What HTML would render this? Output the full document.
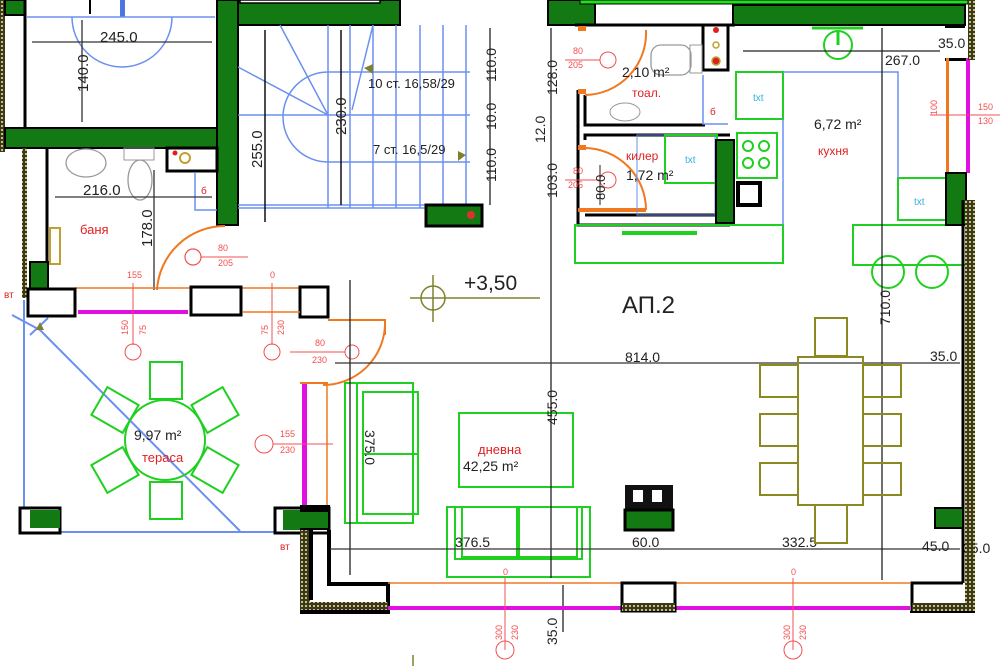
<!DOCTYPE html>
<html><head><meta charset="utf-8"><style>
html,body{margin:0;padding:0;background:#fff;}
svg{display:block;font-family:"Liberation Sans","DejaVu Sans",sans-serif;}
</style></head><body>
<svg width="1000" height="666" viewBox="0 0 1000 666" xmlns="http://www.w3.org/2000/svg">
<defs>
<pattern id="hat" width="4" height="4" patternUnits="userSpaceOnUse"><rect width="4" height="4" fill="#3a3a1a"/><rect x="1" y="1" width="2" height="2" fill="#c8c080"/></pattern>
</defs>
<rect width="1000" height="666" fill="#fff"/>

<!-- top-left area -->
<rect x="0" y="0" width="5" height="152" fill="url(#hat)"/>
<rect x="5" y="0" width="20" height="15" fill="#137a13" stroke="#000" stroke-width="2"/>
<line x1="25" y1="0" x2="25" y2="128" stroke="#000" stroke-width="3"/>
<rect x="120" y="0" width="5" height="17" fill="#4a78e0"/>
<line x1="90" y1="0" x2="90" y2="14" stroke="#000" stroke-width="2"/>
<line x1="27" y1="17" x2="215" y2="17" stroke="#6a90f0" stroke-width="1.5"/>
<path d="M72 0 A50 50 0 0 0 172 0" fill="none" stroke="#6a90f0" stroke-width="1.5" transform="translate(0,17)"/>
<line x1="32" y1="42" x2="212" y2="42" stroke="#333" stroke-width="1.3"/>
<text x="100" y="42" font-size="15" fill="#222">245.0</text>
<line x1="82" y1="20" x2="82" y2="122" stroke="#333" stroke-width="1.3"/>
<text x="88" y="92" font-size="15" fill="#222" transform="rotate(-90 88 92)">140.0</text>
<!-- horizontal green walls -->
<rect x="5" y="128" width="233" height="20" fill="#137a13" stroke="#000" stroke-width="2"/>
<rect x="217" y="0" width="21" height="225" fill="#137a13" stroke="#000" stroke-width="2"/>
<rect x="238" y="0" width="162" height="25" fill="#137a13" stroke="#000" stroke-width="2"/>
<rect x="240" y="0" width="140" height="3" fill="#fff" stroke="#000" stroke-width="1.5"/>
<!-- stairs -->
<g stroke="#6a90f0" stroke-width="1.5" fill="none">
<line x1="238" y1="115" x2="470" y2="115"/>
<line x1="238" y1="208" x2="470" y2="208"/>
<line x1="328" y1="72" x2="470" y2="72"/>
<line x1="328" y1="162" x2="470" y2="162"/>
<path d="M328 72 A45 45 0 0 0 328 162"/>
<line x1="280" y1="25" x2="328" y2="115"/>
<line x1="238" y1="67" x2="328" y2="115"/>
<line x1="373" y1="25" x2="352" y2="110"/>
<line x1="328" y1="25" x2="328" y2="208"/>
<line x1="350" y1="25" x2="350" y2="208"/>
<line x1="373" y1="25" x2="373" y2="208"/>
<line x1="396" y1="25" x2="396" y2="208"/>
<line x1="420" y1="25" x2="420" y2="208"/>
<line x1="443" y1="25" x2="443" y2="208"/>
<line x1="466" y1="25" x2="466" y2="208"/>
<line x1="238" y1="205" x2="470" y2="205"/>
</g>
<line x1="265" y1="30" x2="265" y2="222" stroke="#111" stroke-width="1.5"/>
<text x="262" y="168" font-size="15" fill="#222" transform="rotate(-90 262 168)">255.0</text>
<line x1="341" y1="30" x2="341" y2="205" stroke="#111" stroke-width="1.5"/>
<text x="346" y="135" font-size="15" fill="#222" transform="rotate(-90 346 135)">230.0</text>
<text x="368" y="88" font-size="13" fill="#222">10 ст. 16,58/29</text>
<text x="373" y="154" font-size="13" fill="#222">7 ст. 16,5/29</text>
<polygon points="364,68 373,64 373,74" fill="#808030"/>
<polygon points="466,155 458,151 458,161" fill="#808030"/>
<line x1="490" y1="28" x2="490" y2="205" stroke="#222" stroke-width="1.3"/>
<text x="496" y="82" font-size="14" fill="#222" transform="rotate(-90 496 82)">110.0</text>
<text x="496" y="130" font-size="14" fill="#222" transform="rotate(-90 496 130)">10.0</text>
<text x="496" y="182" font-size="14" fill="#222" transform="rotate(-90 496 182)">110.0</text>
<rect x="426" y="205" width="56" height="21" fill="#137a13" stroke="#000" stroke-width="3"/>
<circle cx="471" cy="215" r="4" fill="#e03030"/>

<!-- bathroom -->
<rect x="22" y="148" width="5" height="150" fill="url(#hat)"/>
<line x1="47" y1="148" x2="47" y2="298" stroke="#000" stroke-width="3"/>
<rect x="30" y="262" width="18" height="36" fill="#137a13" stroke="#000" stroke-width="2"/>
<ellipse cx="86" cy="163" rx="20" ry="14" fill="none" stroke="#999" stroke-width="1.3"/>
<ellipse cx="140" cy="180" rx="12" ry="20" fill="none" stroke="#999" stroke-width="1.3"/>
<rect x="124" y="148" width="30" height="12" fill="none" stroke="#999"/>
<rect x="167" y="148" width="50" height="23" fill="none" stroke="#000" stroke-width="3"/>
<circle cx="175" cy="153" r="2.5" fill="#e02020"/>
<circle cx="185" cy="158" r="5" fill="none" stroke="#c0a030" stroke-width="2"/>
<polyline points="195,172 195,210 217,210" fill="none" stroke="#6a90f0" stroke-width="1.5"/>
<text x="201" y="194" font-size="10" fill="#e02020">б</text>
<line x1="55" y1="197" x2="212" y2="197" stroke="#333" stroke-width="1.3"/>
<text x="83" y="195" font-size="15" fill="#222">216.0</text>
<line x1="154" y1="170" x2="154" y2="290" stroke="#333" stroke-width="1.3"/>
<text x="152" y="247" font-size="15" fill="#222" transform="rotate(-90 152 247)">178.0</text>
<text x="80" y="234" font-size="13" fill="#e02020">баня</text>
<rect x="50" y="228" width="10" height="36" fill="none" stroke="#c0a030" stroke-width="2"/>
<!-- door bath -->
<path d="M157 290 A68 68 0 0 1 225 226" fill="none" stroke="#f07820" stroke-width="2"/>
<circle cx="193" cy="257" r="8" fill="none" stroke="#f05050" stroke-width="1.2"/>
<line x1="201" y1="257" x2="248" y2="257" stroke="#f05050"/>
<text x="218" y="251" font-size="9" fill="#f05050">80</text>
<text x="218" y="266" font-size="9" fill="#f05050">205</text>

<!-- wall line above terrace -->
<line x1="75" y1="288" x2="300" y2="288" stroke="#f07820" stroke-width="1.5"/>
<rect x="28" y="289" width="47" height="27" fill="#fff" stroke="#000" stroke-width="3"/>
<rect x="78" y="310" width="110" height="4" fill="#e010e0"/>
<rect x="191" y="287" width="50" height="28" fill="#fff" stroke="#000" stroke-width="3"/>
<rect x="300" y="287" width="28" height="30" fill="#fff" stroke="#000" stroke-width="3"/>
<line x1="243" y1="312" x2="300" y2="312" stroke="#f07820" stroke-width="1.5"/>
<polyline points="328,320 385,320 385,335" fill="none" stroke="#f07820" stroke-width="2"/>
<path d="M385 325 A62 62 0 0 1 323 385" fill="none" stroke="#f07820" stroke-width="2"/>
<text x="127" y="278" font-size="9" fill="#f05050">155</text>
<text x="270" y="278" font-size="9" fill="#f05050">0</text>
<line x1="133" y1="283" x2="133" y2="345" stroke="#f05050"/>
<circle cx="133" cy="352" r="8" fill="none" stroke="#f05050"/>
<text x="128" y="335" font-size="9" fill="#f05050" transform="rotate(-90 128 335)">150</text>
<text x="146" y="335" font-size="9" fill="#f05050" transform="rotate(-90 146 335)">75</text>
<line x1="272" y1="283" x2="272" y2="345" stroke="#f05050"/>
<circle cx="272" cy="352" r="8" fill="none" stroke="#f05050"/>
<text x="268" y="335" font-size="9" fill="#f05050" transform="rotate(-90 268 335)">75</text>
<text x="284" y="335" font-size="9" fill="#f05050" transform="rotate(-90 284 335)">230</text>
<circle cx="352" cy="352" r="7" fill="none" stroke="#f05050"/>
<line x1="290" y1="352" x2="345" y2="352" stroke="#f05050"/>
<text x="315" y="346" font-size="9" fill="#f05050">80</text>
<text x="312" y="363" font-size="9" fill="#f05050">230</text>
<text x="4" y="298" font-size="10" fill="#e02020">вт</text>
<!-- +3.50 -->
<circle cx="433" cy="298" r="12" fill="none" stroke="#808030" stroke-width="1.5"/>
<line x1="410" y1="298" x2="540" y2="298" stroke="#808030" stroke-width="1.5"/>
<line x1="433" y1="275" x2="433" y2="322" stroke="#808030" stroke-width="1.5"/>
<text x="464" y="290" font-size="21" fill="#222">+3,50</text>

<!-- terrace -->
<g stroke="#6a90f0" stroke-width="2" fill="none">
<line x1="24" y1="300" x2="24" y2="510"/>
<line x1="60" y1="532" x2="275" y2="532"/>
<line x1="40" y1="330" x2="240" y2="531"/>
<path d="M12 315 L40 330 M30 335 L48 318"/>
</g>
<polygon points="36,330 44,330 40,322" fill="#808030"/>
<rect x="20" y="508" width="40" height="25" fill="#fff" stroke="#000" stroke-width="3"/>
<rect x="30" y="510" width="30" height="18" fill="#137a13"/>
<rect x="275" y="508" width="54" height="25" fill="#fff" stroke="#000" stroke-width="3"/>
<rect x="283" y="510" width="46" height="20" fill="#137a13"/>
<text x="280" y="550" font-size="10" fill="#e02020">вт</text>
<g stroke="#20d020" stroke-width="2" fill="none">
<circle cx="165" cy="440" r="40"/>
<rect x="150" y="362" width="32" height="37"/>
<rect x="150" y="482" width="32" height="37"/>
<rect x="-16" y="-18" width="32" height="36" transform="translate(115 410) rotate(-60)"/>
<rect x="-16" y="-18" width="32" height="36" transform="translate(215 410) rotate(60)"/>
<rect x="-16" y="-18" width="32" height="36" transform="translate(115 470) rotate(60)"/>
<rect x="-16" y="-18" width="32" height="36" transform="translate(215 470) rotate(-60)"/>
</g>
<text x="134" y="440" font-size="14" fill="#222">9,97 m²</text>
<text x="142" y="462" font-size="13" fill="#e02020">тераса</text>

<!-- living left wall -->
<rect x="302" y="382" width="5" height="125" fill="#e010e0"/>
<line x1="327" y1="385" x2="327" y2="510" stroke="#f07820" stroke-width="1.5"/>
<line x1="300" y1="383" x2="328" y2="383" stroke="#f07820" stroke-width="2"/>
<circle cx="264" cy="444" r="9" fill="none" stroke="#f05050"/>
<line x1="273" y1="444" x2="333" y2="444" stroke="#f05050"/>
<text x="280" y="437" font-size="9" fill="#f05050">155</text>
<text x="280" y="453" font-size="9" fill="#f05050">230</text>
<rect x="300" y="505" width="30" height="25" fill="#000"/>
<rect x="283" y="512" width="45" height="16" fill="#137a13"/>
<rect x="300" y="530" width="10" height="80" fill="url(#hat)"/>
<line x1="311" y1="530" x2="311" y2="600" stroke="#000" stroke-width="4"/>
<polyline points="329,530 329,584 388,584 388,612 300,612" fill="none" stroke="#000" stroke-width="4"/>
<rect x="302" y="602" width="86" height="8" fill="url(#hat)"/>

<!-- sofa -->
<g stroke="#20d020" stroke-width="2" fill="none">
<rect x="345" y="383" width="68" height="140"/>
<rect x="357" y="383" width="56" height="140"/>
<rect x="363" y="392" width="55" height="62"/>
<rect x="363" y="454" width="55" height="60"/>
<rect x="459" y="413" width="114" height="74"/>
<rect x="447" y="507" width="143" height="70"/>
<rect x="455" y="507" width="127" height="52"/>
<rect x="462" y="507" width="55" height="50"/>
<rect x="519" y="507" width="58" height="50"/>
</g>
<text x="365" y="430" font-size="14" fill="#222" transform="rotate(90 365 430)">375.0</text>
<text x="478" y="454" font-size="13" fill="#e02020">дневна</text>
<text x="463" y="471" font-size="14" fill="#222">42,25 m²</text>

<!-- long vertical dim 455 -->
<line x1="551" y1="28" x2="551" y2="578" stroke="#222" stroke-width="1.3"/>
<text x="557" y="95" font-size="14" fill="#222" transform="rotate(-90 557 95)">128.0</text>
<text x="545" y="143" font-size="14" fill="#222" transform="rotate(-90 545 143)">12.0</text>
<text x="557" y="198" font-size="14" fill="#222" transform="rotate(-90 557 198)">103.0</text>
<text x="557" y="425" font-size="14" fill="#222" transform="rotate(-90 557 425)">455.0</text>
<line x1="563" y1="585" x2="563" y2="632" stroke="#222" stroke-width="1.3"/>
<text x="557" y="645" font-size="14" fill="#222" transform="rotate(-90 557 645)">35.0</text>
<line x1="350" y1="280" x2="350" y2="575" stroke="#222" stroke-width="1.3"/>
<line x1="335" y1="363" x2="960" y2="363" stroke="#333" stroke-width="1.3"/>
<text x="625" y="362" font-size="14" fill="#222">814.0</text>
<text x="930" y="361" font-size="14" fill="#222">35.0</text>
<line x1="330" y1="549" x2="960" y2="549" stroke="#333" stroke-width="1.3"/>
<text x="455" y="547" font-size="14" fill="#222">376.5</text>
<text x="632" y="547" font-size="14" fill="#222">60.0</text>
<text x="782" y="547" font-size="14" fill="#222">332.5</text>
<text x="922" y="551" font-size="14" fill="#222">45.0</text>
<text x="963" y="553" font-size="14" fill="#222">35.0</text>

<!-- top right zone: toilet/pantry -->
<rect x="548" y="0" width="47" height="25" fill="#137a13" stroke="#000" stroke-width="2"/>
<rect x="580" y="0" width="388" height="4" fill="#20e020" stroke="#000" stroke-width="1"/>
<rect x="733" y="5" width="232" height="20" fill="#137a13" stroke="#000" stroke-width="2"/>
<line x1="575" y1="25" x2="735" y2="25" stroke="#000" stroke-width="3"/>
<polyline points="578,90 578,225 730,225" fill="none" stroke="#000" stroke-width="3"/>
<polyline points="585,95 585,125 705,125" fill="none" stroke="#000" stroke-width="3"/>
<polyline points="585,140 585,135 730,135" fill="none" stroke="#000" stroke-width="3"/>
<line x1="585" y1="215" x2="716" y2="215" stroke="#000" stroke-width="3"/>
<rect x="703" y="25" width="25" height="45" fill="#fff" stroke="#000" stroke-width="3"/>
<circ/>
<circle cx="716" cy="30" r="3" fill="#e02020"/>
<circle cx="716" cy="45" r="3" fill="none" stroke="#c0a030" stroke-width="1.5"/>
<circle cx="716" cy="61" r="4" fill="#e02020" stroke="#c0a030" stroke-width="1.5"/>
<polyline points="703,75 703,124 728,124" fill="none" stroke="#6a90f0" stroke-width="1.5"/>
<text x="710" y="115" font-size="10" fill="#e02020">б</text>
<rect x="651" y="45" width="40" height="30" rx="10" fill="none" stroke="#999" stroke-width="1.3"/>
<rect x="690" y="45" width="12" height="28" fill="none" stroke="#999"/>
<ellipse cx="625" cy="112" rx="15" ry="9" fill="none" stroke="#999"/>
<path d="M580 30 L580 29 M585 95 A62 62 0 0 0 646 30" fill="none" stroke="#f07820" stroke-width="2"/>
<rect x="578" y="26" width="8" height="5" fill="#f07820"/>
<rect x="578" y="89" width="8" height="5" fill="#f07820"/>
<path d="M585 148 A62 62 0 0 1 646 210" fill="none" stroke="#f07820" stroke-width="2"/>
<rect x="578" y="145" width="8" height="5" fill="#f07820"/>
<rect x="578" y="208" width="68" height="4" fill="#f07820"/>
<rect x="637" y="135" width="78" height="80" fill="none" stroke="#6a90f0" stroke-width="1"/>
<rect x="665" y="135" width="52" height="48" fill="none" stroke="#20d020" stroke-width="2"/>
<text x="685" y="163" font-size="10" fill="#30b0e0">txt</text>
<rect x="716" y="140" width="18" height="83" fill="#137a13" stroke="#000" stroke-width="2"/>
<circle cx="608" cy="60" r="8" fill="none" stroke="#f05050"/>
<line x1="565" y1="60" x2="600" y2="60" stroke="#f05050"/>
<text x="573" y="54" font-size="9" fill="#f05050">80</text>
<text x="568" y="68" font-size="9" fill="#f05050">205</text>
<circle cx="608" cy="180" r="8" fill="none" stroke="#f05050"/>
<line x1="565" y1="180" x2="600" y2="180" stroke="#f05050"/>
<text x="573" y="174" font-size="9" fill="#f05050">80</text>
<text x="568" y="188" font-size="9" fill="#f05050">205</text>
<line x1="600" y1="165" x2="600" y2="205" stroke="#222"/>
<text x="605" y="200" font-size="13" fill="#222" transform="rotate(-90 605 200)">80.0</text>
<text x="622" y="77" font-size="14" fill="#222">2,10 m²</text>
<text x="632" y="97" font-size="12" fill="#e02020">тоал.</text>
<text x="626" y="160" font-size="12" fill="#e02020">килер</text>
<text x="626" y="180" font-size="14" fill="#222">1,72 m²</text>

<!-- kitchen -->
<g stroke="#20d020" stroke-width="2" fill="none">
<rect x="575" y="225" width="208" height="38"/>
<rect x="736" y="72" width="47" height="47"/>
<rect x="737" y="133" width="40" height="45"/>
<circle cx="748" cy="146" r="5"/><circle cx="764" cy="146" r="5"/>
<circle cx="748" cy="163" r="5"/><circle cx="764" cy="163" r="5"/>
<rect x="898" y="178" width="48" height="42"/>
<rect x="853" y="225" width="117" height="40"/>
<circle cx="888" cy="272" r="16"/>
<circle cx="932" cy="272" r="16"/>
<circle cx="838" cy="45" r="14"/>
</g>
<line x1="622" y1="233" x2="697" y2="233" stroke="#20d020" stroke-width="4"/>
<line x1="812" y1="28" x2="863" y2="28" stroke="#20d020" stroke-width="3"/>
<line x1="838" y1="32" x2="838" y2="45" stroke="#20d020" stroke-width="3"/>
<polyline points="783,72 898,72 898,178" fill="none" stroke="#6a90f0" stroke-width="1.5"/>
<line x1="783" y1="119" x2="783" y2="225" stroke="#6a90f0" stroke-width="1.5"/>
<rect x="738" y="183" width="22" height="22" fill="#fff" stroke="#000" stroke-width="4"/>
<text x="753" y="101" font-size="10" fill="#30b0e0">txt</text>
<text x="914" y="205" font-size="10" fill="#30b0e0">txt</text>
<text x="814" y="129" font-size="14" fill="#222">6,72 m²</text>
<text x="818" y="155" font-size="12" fill="#e02020">кухня</text>
<line x1="743" y1="51" x2="940" y2="51" stroke="#222" stroke-width="1.3"/>
<text x="885" y="65" font-size="14" fill="#222">267.0</text>
<text x="938" y="48" font-size="14" fill="#222">35.0</text>
<line x1="882" y1="28" x2="882" y2="580" stroke="#222" stroke-width="1.3"/>
<text x="890" y="325" font-size="14" fill="#222" transform="rotate(-90 890 325)">710.0</text>
<text x="622" y="313" font-size="24" fill="#222">АП.2</text>
<!-- right wall -->
<rect x="945" y="25" width="20" height="3" fill="#000"/>
<rect x="945" y="58" width="22" height="3" fill="#000"/>
<rect x="946" y="58" width="3" height="115" fill="#f07820"/>
<rect x="966" y="58" width="4" height="115" fill="#e010e0"/>
<line x1="930" y1="115" x2="1000" y2="115" stroke="#f05050"/>
<text x="937" y="115" font-size="9" fill="#f05050" transform="rotate(-90 937 115)">100</text>
<text x="978" y="110" font-size="9" fill="#f05050">150</text>
<text x="978" y="124" font-size="9" fill="#f05050">130</text>
<rect x="946" y="173" width="20" height="52" fill="#137a13" stroke="#000" stroke-width="2"/>
<rect x="965" y="200" width="10" height="410" fill="url(#hat)"/>
<rect x="968" y="0" width="7" height="60" fill="url(#hat)"/>
<line x1="963" y1="200" x2="963" y2="583" stroke="#000" stroke-width="3"/>
<rect x="935" y="508" width="28" height="20" fill="#137a13" stroke="#000" stroke-width="2"/>

<!-- dining -->
<g stroke="#8a8a20" stroke-width="2" fill="none">
<rect x="798" y="357" width="65" height="148"/>
<rect x="815" y="318" width="32" height="38"/>
<rect x="815" y="505" width="32" height="38"/>
<rect x="760" y="365" width="38" height="32"/>
<rect x="760" y="414" width="38" height="32"/>
<rect x="760" y="463" width="38" height="32"/>
<rect x="863" y="365" width="38" height="32"/>
<rect x="863" y="414" width="38" height="32"/>
<rect x="863" y="463" width="38" height="32"/>
</g>
<!-- fireplace -->
<rect x="625" y="485" width="48" height="27" fill="#111"/>
<rect x="633" y="490" width="10" height="12" fill="#fff"/>
<rect x="652" y="490" width="10" height="12" fill="#fff"/>
<rect x="625" y="510" width="48" height="20" fill="#137a13" stroke="#000" stroke-width="3"/>

<!-- bottom wall -->
<line x1="388" y1="583" x2="910" y2="583" stroke="#f07820" stroke-width="1.5"/>
<rect x="388" y="606" width="522" height="4" fill="#e010e0"/>
<rect x="622" y="583" width="53" height="28" fill="#fff" stroke="#000" stroke-width="3"/>
<rect x="622" y="603" width="53" height="8" fill="url(#hat)"/>
<polyline points="912,612 912,583 963,583" fill="none" stroke="#000" stroke-width="3"/>
<rect x="912" y="603" width="63" height="8" fill="url(#hat)"/>
<line x1="910" y1="612" x2="975" y2="612" stroke="#000" stroke-width="2"/>
<line x1="505" y1="578" x2="505" y2="650" stroke="#f05050"/>
<circle cx="505" cy="650" r="9" fill="none" stroke="#f05050"/>
<text x="503" y="575" font-size="9" fill="#f05050">0</text>
<text x="502" y="640" font-size="9" fill="#f05050" transform="rotate(-90 502 640)">300</text>
<text x="518" y="640" font-size="9" fill="#f05050" transform="rotate(-90 518 640)">230</text>
<line x1="793" y1="578" x2="793" y2="650" stroke="#f05050"/>
<circle cx="793" cy="650" r="9" fill="none" stroke="#f05050"/>
<text x="791" y="575" font-size="9" fill="#f05050">0</text>
<text x="790" y="640" font-size="9" fill="#f05050" transform="rotate(-90 790 640)">300</text>
<text x="806" y="640" font-size="9" fill="#f05050" transform="rotate(-90 806 640)">230</text>
<line x1="413" y1="655" x2="413" y2="666" stroke="#808030" stroke-width="1.5"/>
</svg>
</body></html>
